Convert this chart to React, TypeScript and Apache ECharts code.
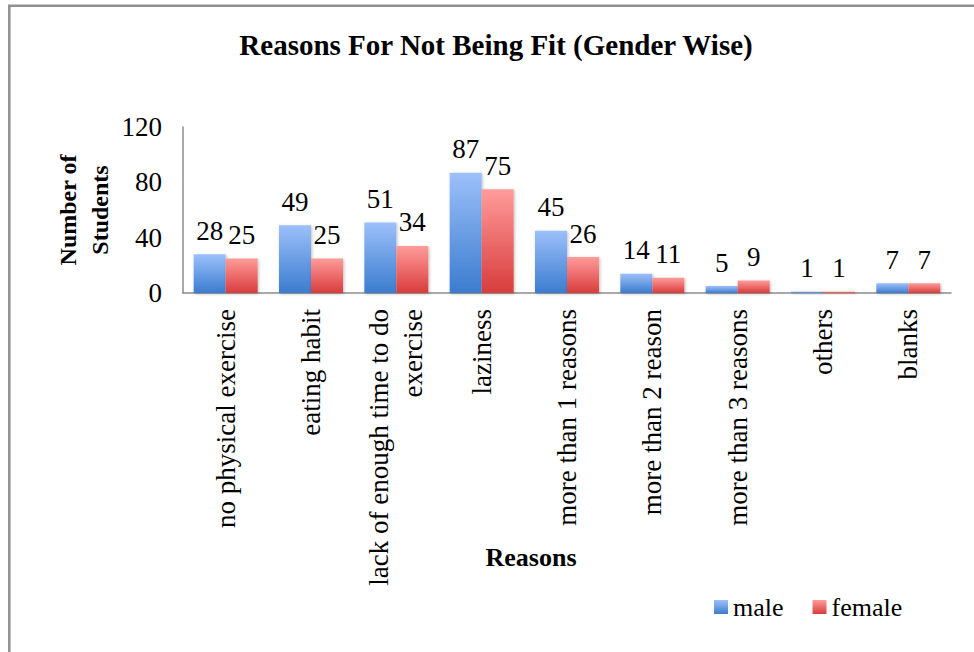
import React, { useEffect, useRef } from "react";
import * as echarts from "echarts";

const categories = [
  "no physical exercise",
  "eating habit",
  "lack of enough time to do\nexercise",
  "laziness",
  "more than 1 reasons",
  "more than 2 reason",
  "more than 3 reasons",
  "others",
  "blanks",
];
const maleValues = [28, 49, 51, 87, 45, 14, 5, 1, 7];
const femaleValues = [25, 25, 34, 75, 26, 11, 9, 1, 7];
const yTicks = { min: 0, max: 120, interval: 40 };

const FONT = "'Liberation Serif', 'Times New Roman', serif";

export default function App() {
  const ref = useRef<HTMLDivElement>(null);
  useEffect(() => {
    if (!ref.current) return;
    const chart = echarts.init(ref.current, undefined, { renderer: "svg" });
    const grad = (top: string, bottom: string) =>
      new echarts.graphic.LinearGradient(0, 0, 0, 1, [
        { offset: 0, color: top },
        { offset: 1, color: bottom },
      ]);
    const labelStyle = {
      show: true,
      position: "top" as const,
      distance: 10,
      fontFamily: FONT,
      fontSize: 27,
      color: "#000",
    };
    chart.setOption({
      animation: false,
      backgroundColor: "#fff",
      textStyle: { fontFamily: FONT, color: "#000" },
      title: {
        text: "Reasons For Not Being Fit (Gender Wise)",
        left: 491,
        textAlign: "center",
        top: 25,
        textStyle: { fontFamily: FONT, fontWeight: "bold", fontSize: 29, color: "#000" },
      },
      graphic: [
        {
          type: "rect",
          shape: { x: 9.3, y: 5.8, width: 1000, height: 700 },
          style: { fill: "none", stroke: "#909090", lineWidth: 2.5 },
          silent: true,
        },
        {
          type: "text",
          x: 531,
          y: 557,
          style: {
            text: "Reasons",
            fontFamily: FONT,
            fontWeight: "bold",
            fontSize: 26,
            fill: "#000",
            align: "center",
            verticalAlign: "middle",
          },
          silent: true,
        },
      ],
      legend: {
        left: 709,
        top: 589,
        itemWidth: 14,
        itemHeight: 14,
        itemGap: 29,
        icon: "rect",
        textStyle: { fontFamily: FONT, fontSize: 26, color: "#000" },
        data: ["male", "female"],
      },
      grid: { left: 183, right: 23, top: 127, bottom: 359, containLabel: false },
      xAxis: {
        type: "category",
        data: categories,
        axisLine: { lineStyle: { color: "#8c8c8c", width: 1.5 } },
        axisTick: { show: false },
        axisLabel: {
          interval: 0,
          rotate: 90,
          margin: 16,
          fontFamily: FONT,
          fontSize: 27,
          color: "#000",
          lineHeight: 34,
        },
      },
      yAxis: {
        type: "value",
        min: yTicks.min,
        max: yTicks.max,
        interval: yTicks.interval,
        name: "Number of\nStudents",
        nameLocation: "middle",
        nameRotate: 90,
        nameGap: 67,
        nameMoveOverlap: false,
        nameTextStyle: {
          fontFamily: FONT,
          fontWeight: "bold",
          fontSize: 24,
          color: "#000",
          lineHeight: 32,
        },
        axisLine: { show: true, lineStyle: { color: "#8c8c8c", width: 1.5 } },
        axisTick: { show: false },
        splitLine: { show: false },
        axisLabel: { margin: 21, fontFamily: FONT, fontSize: 27, color: "#000" },
      },
      series: [
        {
          name: "male",
          type: "bar",
          data: maleValues,
          barGap: "0%",
          barCategoryGap: "25%",
          itemStyle: {
            color: grad("#9cc0fa", "#3b7ccf"),
            shadowBlur: 3,
            shadowColor: "rgba(0,0,0,0.25)",
            shadowOffsetX: 1,
            shadowOffsetY: 1,
          },
          label: labelStyle,
        },
        {
          name: "female",
          type: "bar",
          data: femaleValues,
          itemStyle: {
            color: grad("#ff9c9a", "#d83c3c"),
            shadowBlur: 3,
            shadowColor: "rgba(0,0,0,0.25)",
            shadowOffsetX: 1,
            shadowOffsetY: 1,
          },
          label: labelStyle,
        },
      ],
    });
    return () => chart.dispose();
  }, []);
  return (
    <div
      ref={ref}
      style={{ position: "absolute", left: 0, top: 0, width: 974, height: 652 }}
    />
  );
}
